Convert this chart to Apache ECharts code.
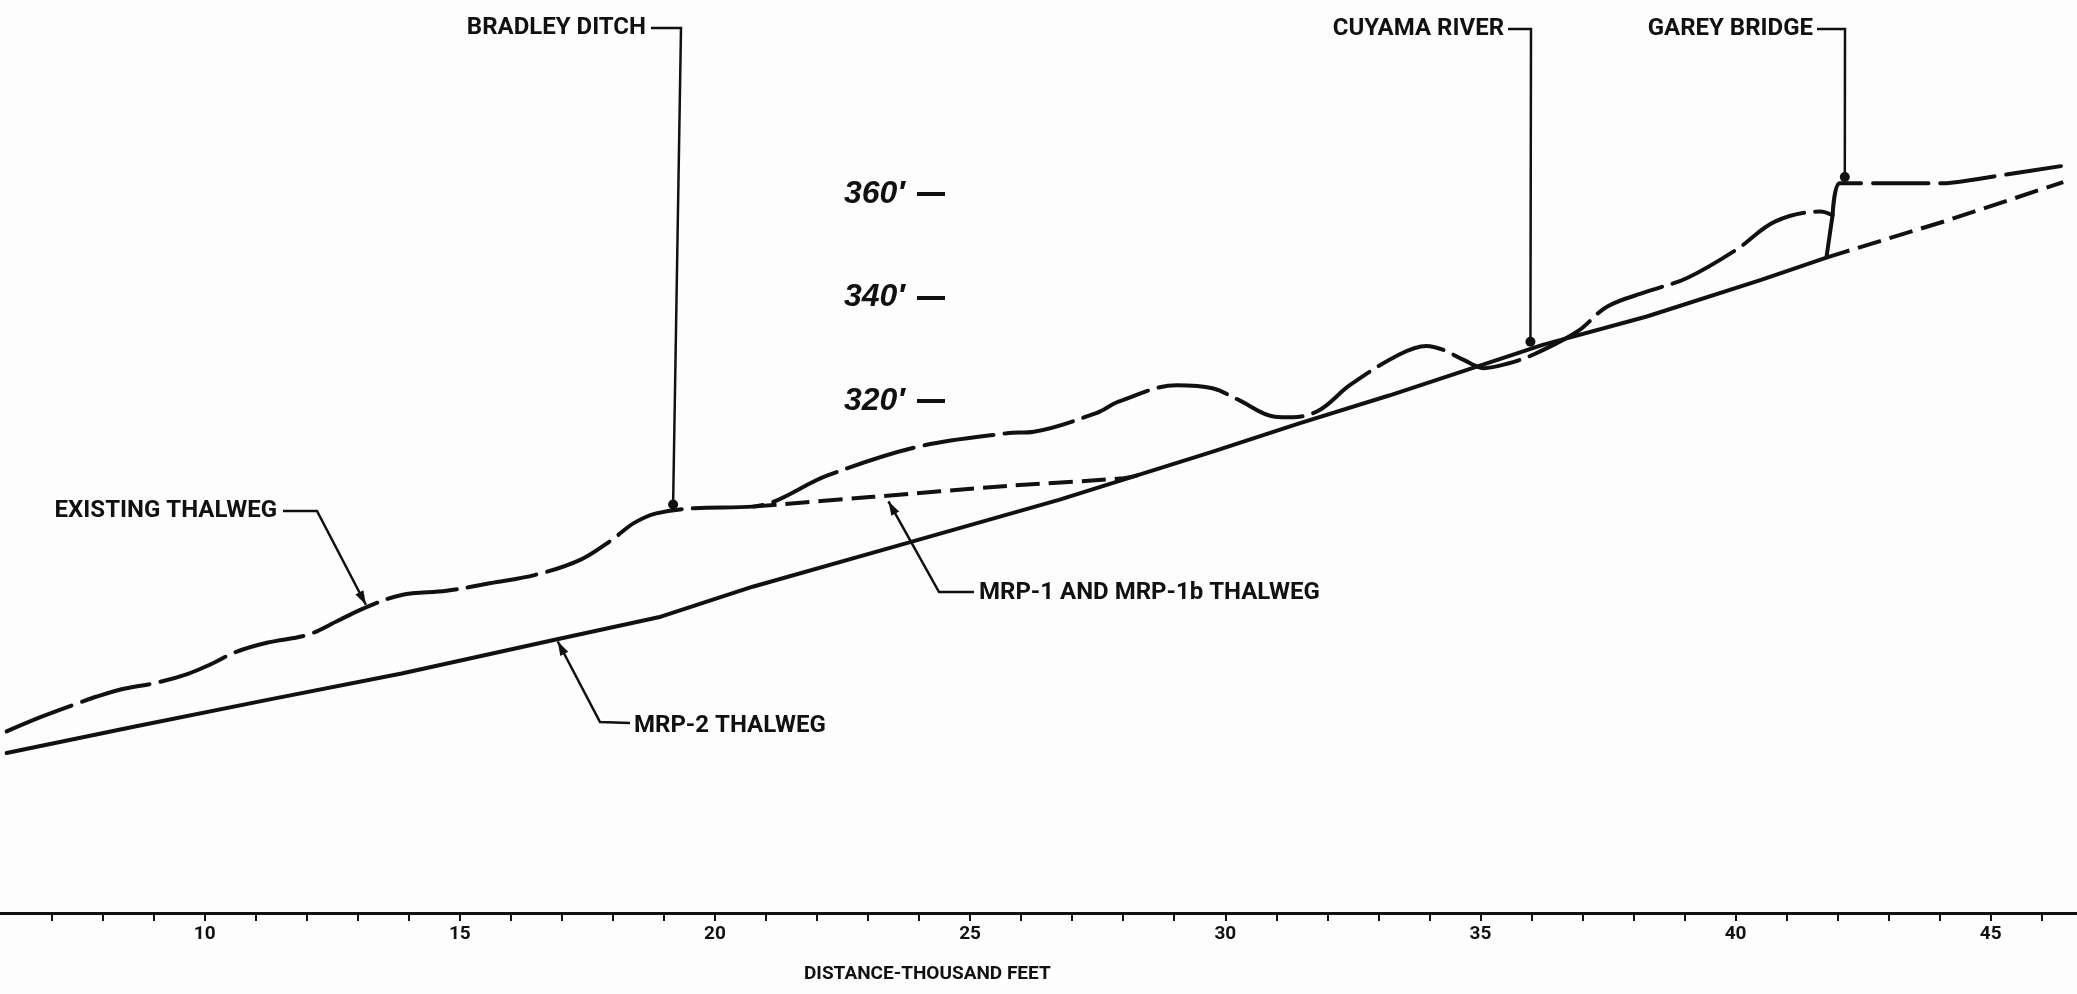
<!DOCTYPE html>
<html><head><meta charset="utf-8">
<script src="https://cdn.jsdelivr.net/npm/echarts@6/dist/echarts.min.js"></script>
<style>html,body{margin:0;padding:0;background:#fff}#c{width:2077px;height:994px}</style>
</head><body><div id="c"></div>
<script>
// ---- axis values ----
const distanceTicks = [7,8,9,10,11,12,13,14,15,16,17,18,19,20,21,22,23,24,25,26,27,28,29,30,31,32,33,34,35,36,37,38,39,40,41,42,43,44,45,46];
const distanceLabels = [10,15,20,25,30,35,40,45];
const elevationLabels = [320,340,360];
const xTitle = 'DISTANCE-THOUSAND FEET';

// ---- series values: [distance (thousand ft), elevation (ft)] ----
const existingThalweg = [
  [6.12,256.0],[6.77,258.7],[7.56,261.6],[7.87,262.7],[8.44,264.3],[9.05,265.4],[9.66,267.1],
  [10.10,268.9],[10.62,271.4],[11.24,273.2],[12.02,274.7],[12.63,277.5],[13.16,280.0],[13.86,282.4],
  [14.74,283.2],[15.61,284.7],[16.48,286.3],[17.36,289.2],[17.97,293.0],[18.41,296.3],[18.85,298.2],
  [19.60,299.2],[20.74,299.5],[22.22,305.6],[23.98,311.1],[25.72,313.7],[26.25,314.0],[27.47,317.6],
  [27.91,319.8],[29.05,323.0],[29.75,322.4],[30.27,320.1],[30.97,316.9],[31.32,316.8],[31.85,318.2],
  [32.44,323.0],[33.40,328.9],[33.94,330.6],[34.28,329.8],[34.67,327.9],[35.06,326.3],[35.54,327.2],
  [36.03,328.9],[36.90,333.4],[37.48,338.2],[38.26,341.1],[39.04,343.7],[40.01,349.2],[40.78,354.7],
  [41.66,356.6],[41.90,355.9]
];
const existingAtBridge = [[41.90,355.9],[42.04,362.1],[44.08,362.1],[45.06,363.4],[46.51,365.6]];
const mrp2Thalweg = [
  [6.12,251.8],[8.61,256.9],[11.23,262.1],[13.86,267.2],[16.84,273.7],[18.94,278.2],[20.74,284.0],
  [23.74,292.4],[26.74,300.8],[29.74,310.1],[31.45,315.6],[33.21,321.0],[34.96,326.7],[36.22,330.8],
  [38.26,336.3],[40.50,343.4],[41.78,347.7],[41.90,355.9]
];
const mrp2BeyondBridge = [[41.78,347.7],[42.14,348.8],[44.09,354.7],[46.42,362.3]];
const mrp1Thalweg = [[20.74,299.5],[23.10,301.4],[25.72,303.5],[28.00,305.0],[28.30,305.6]];

// ---- annotation anchors (data coordinates) ----
const annotationTexts = ['BRADLEY DITCH','CUYAMA RIVER','GAREY BRIDGE','EXISTING THALWEG','MRP-2 THALWEG','MRP-1 AND MRP-1b THALWEG'];
const annotationAnchors = [[19.18,299.9],[35.98,331.4],[42.14,363.3],[13.16,280.5],[16.92,273.4],[23.40,300.5]];

// ---- layout (pixels) ----
const layout = [
  {tx:646, ty:28, align:'right', path:[[651,28],[681,28]], end:'dot'},
  {tx:1504, ty:29, align:'right', path:[[1508,29],[1531,29]], end:'dot'},
  {tx:1813, ty:29, align:'right', path:[[1817,29],[1845,29]], end:'dot'},
  {tx:277, ty:511, align:'right', path:[[283,511],[317,511]], end:'arrow'},
  {tx:634, ty:726, align:'left', path:[[630,723],[600,722]], end:'arrow'},
  {tx:979, ty:593, align:'left', path:[[974,592],[939,592]], end:'arrow'}
];

const chart = echarts.init(document.getElementById('c'));
const black = '#111';
chart.setOption({
  backgroundColor:'#fdfdfd',
  animation:false,
  grid:{left:0,right:0,top:0,bottom:81,containLabel:false},
  xAxis:{type:'value',min:5.99,max:46.69,
    axisLine:{lineStyle:{color:black,width:3}},
    splitLine:{show:false},
    axisTick:{customValues:distanceTicks,length:8,lineStyle:{color:black,width:2}},
    axisLabel:{customValues:distanceLabels,margin:12,color:black,fontFamily:'Roboto',fontWeight:'bold',fontSize:19}
  },
  yAxis:{type:'value',min:220.85,max:397.55,position:'left',offset:-945,
    axisLine:{show:false},splitLine:{show:false},
    axisTick:{show:true,customValues:elevationLabels,length:28,lineStyle:{color:black,width:4}},
    axisLabel:{customValues:elevationLabels,margin:40,formatter:v=>v+'′',color:black,
      fontFamily:'Liberation Sans',fontStyle:'italic',fontWeight:'bold',fontSize:32}
  },
  series:[
    {name:'EXISTING THALWEG',type:'line',data:existingThalweg,showSymbol:false,smooth:0.35,
      lineStyle:{color:black,width:4,type:[70,11],cap:'round'}},
    {name:'EXISTING THALWEG',type:'line',data:existingAtBridge,showSymbol:false,smooth:0.2,
      lineStyle:{color:black,width:4,type:[55,12],cap:'round'}},
    {name:'MRP-2 THALWEG',type:'line',data:mrp2Thalweg,showSymbol:false,smooth:false,
      lineStyle:{color:black,width:4,cap:'round'}},
    {name:'MRP-2 THALWEG',type:'line',data:mrp2BeyondBridge,showSymbol:false,smooth:false,
      lineStyle:{color:black,width:4,type:[24,9]}},
    {name:'MRP-1 AND MRP-1b THALWEG',type:'line',data:mrp1Thalweg,showSymbol:false,smooth:0.3,
      lineStyle:{color:black,width:4,type:[24,9]}}
  ]
});

// annotations
const graphics = [];
graphics.push({type:'text',left:804,top:965,style:{text:xTitle,fill:black,font:'bold 19px Roboto'}});
annotationTexts.forEach((t,i)=>{
  const L = layout[i];
  const p = chart.convertToPixel({gridIndex:0}, annotationAnchors[i]);
  graphics.push({type:'text',x:L.tx,y:L.ty,style:{text:t,fill:black,font:'bold 24px Roboto',align:L.align,verticalAlign:'middle'}});
  const pts = L.path.concat([p]);
  graphics.push({type:'polyline',shape:{points:pts},style:{stroke:black,lineWidth:2.5,fill:null}});
  if (L.end==='dot') {
    graphics.push({type:'circle',shape:{cx:p[0],cy:p[1],r:5},style:{fill:black}});
  } else {
    const q = L.path[L.path.length-1];
    const dx = p[0]-q[0], dy = p[1]-q[1], len = Math.hypot(dx,dy);
    const ux = dx/len, uy = dy/len, nx = -uy, ny = ux;
    const bl = 14, bw = 4.5;
    graphics.push({type:'polygon',shape:{points:[
      [p[0],p[1]],
      [p[0]-ux*bl+nx*bw,p[1]-uy*bl+ny*bw],
      [p[0]-ux*bl-nx*bw,p[1]-uy*bl-ny*bw]
    ]},style:{fill:black}});
  }
});
chart.setOption({graphic:graphics});
</script>
</body></html>
